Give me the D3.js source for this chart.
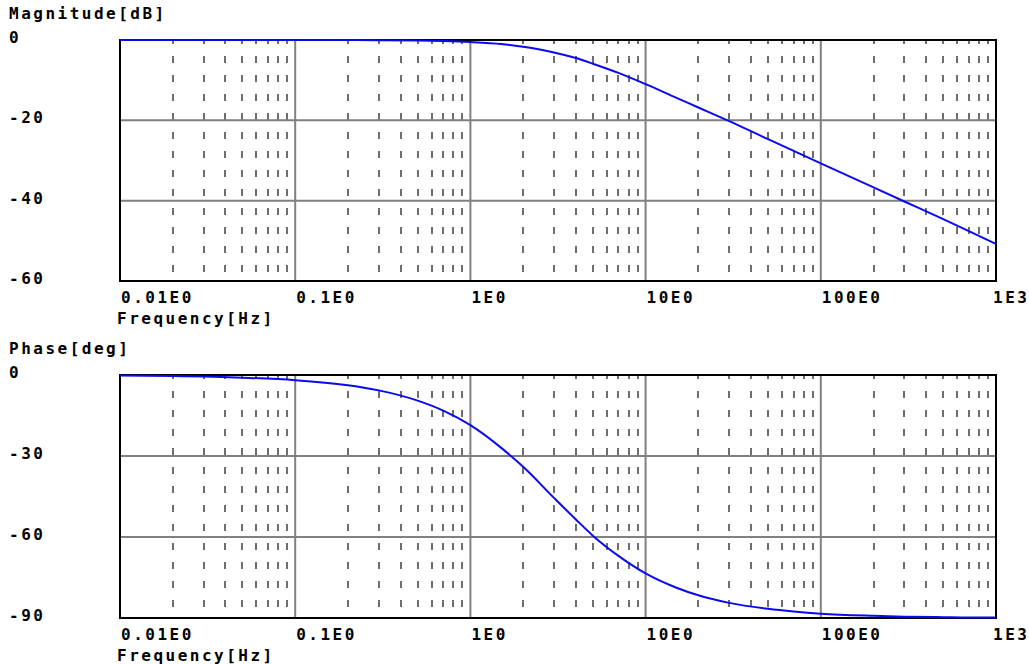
<!DOCTYPE html>
<html>
<head>
<meta charset="utf-8">
<script src="https://cdn.jsdelivr.net/npm/d3@7"></script>
<style>
  body { margin: 0; background: #fff; }
  text { font-family: "DejaVu Sans Mono", monospace; font-weight: bold; font-size: 16px; letter-spacing: 2.5px; fill: #000; }
</style>
</head>
<body>
<svg id="canvas" width="1029" height="664"></svg>
<script>
// frequency points (Hz)
var freqs = [0.01, 0.02, 0.05, 0.1, 0.2, 0.3, 0.5, 0.7, 1, 1.5, 2, 3, 4, 5, 7, 10, 15, 20, 30, 50, 70, 100, 200, 300, 500, 700, 1000];
// magnitude in dB
var magnitude = [0, 0, 0, 0, -0.02, -0.04, -0.12, -0.25, -0.5, -1.0, -1.7, -3.1, -4.5, -5.9, -8.2, -11.0, -14.4, -16.8, -20.2, -24.7, -27.6, -30.7, -36.7, -40.2, -44.6, -47.6, -50.8];
// phase in degrees
var phase = [-0.2, -0.4, -1.0, -1.9, -3.8, -5.7, -9.5, -13.2, -18.6, -27, -34, -45.5, -53.5, -59.5, -67, -73.5, -78.8, -81.6, -84.4, -86.6, -87.6, -88.4, -89.2, -89.5, -89.7, -89.8, -89.8];

var xTicks = [0.01, 0.1, 1, 10, 100, 1000];
var xTickLabels = ['0.01E0', '0.1E0', '1E0', '10E0', '100E0', '1E3'];
var magTicks = [0, -20, -40, -60];
var phaseTicks = [0, -30, -60, -90];

var svg = d3.select('#canvas');
svg.append('rect').attr('width', 1029).attr('height', 664).attr('fill', '#fff');

var left = 120, right = 996;

var drawPanel = function (top, bottom, title, yTicks, values) {
  var x = d3.scaleLog().domain([0.01, 1000]).range([left, right]);
  var y = d3.scaleLinear().domain([yTicks[yTicks.length - 1], 0]).range([bottom, top]);
  var g = svg.append('g');

  // minor dashed verticals (2..9 of each decade)
  var minor = x.ticks().filter(function (d) {
    return Math.abs(Math.log10(d) - Math.round(Math.log10(d))) > 1e-6;
  });
  g.selectAll('line.minor').data(minor).enter().append('line')
    .attr('x1', function (d) { return Math.round(x(d)); })
    .attr('x2', function (d) { return Math.round(x(d)); })
    .attr('y1', top - 3).attr('y2', bottom)
    .attr('stroke', '#6e6e6e').attr('stroke-width', 2)
    .attr('stroke-dasharray', '7,12');

  // major grid
  g.selectAll('line.vmaj').data(xTicks.slice(1, -1)).enter().append('line')
    .attr('x1', function (d) { return x(d); }).attr('x2', function (d) { return x(d); })
    .attr('y1', top).attr('y2', bottom)
    .attr('stroke', '#808080').attr('stroke-width', 2);
  g.selectAll('line.hmaj').data(yTicks.slice(1, -1)).enter().append('line')
    .attr('x1', left).attr('x2', right)
    .attr('y1', function (d) { return y(d); }).attr('y2', function (d) { return y(d); })
    .attr('stroke', '#808080').attr('stroke-width', 2);

  // cover dash overshoot above the frame
  g.append('rect').attr('x', left).attr('y', top - 4).attr('width', right - left).attr('height', 4).attr('fill', '#fff');

  // frame
  g.append('rect').attr('x', left).attr('y', top)
    .attr('width', right - left).attr('height', bottom - top)
    .attr('fill', 'none').attr('stroke', '#000').attr('stroke-width', 2);

  // curve
  var line = d3.line()
    .x(function (d, i) { return x(freqs[i]); })
    .y(function (d) { return y(d); })
    .curve(d3.curveMonotoneX);
  g.append('path').datum(values).attr('d', line)
    .attr('fill', 'none').attr('stroke', '#0a0af0').attr('stroke-width', 2);

  // y tick labels
  g.selectAll('text.yl').data(yTicks).enter().append('text')
    .attr('x', 9).attr('y', function (d) { return y(d) + 3; })
    .text(function (d) { return d; });

  // x tick labels
  g.selectAll('text.xl').data(xTicks).enter().append('text')
    .attr('x', function (d, i) { return i === xTicks.length - 1 ? x(d) - 3 : x(d) + 1; })
    .attr('y', bottom + 22)
    .text(function (d, i) { return xTickLabels[i]; });

  g.append('text').attr('x', left - 3).attr('y', bottom + 43).text('Frequency[Hz]');
  g.append('text').attr('x', 9).attr('y', top - 21).text(title);
};

drawPanel(40, 281, 'Magnitude[dB]', magTicks, magnitude);
drawPanel(375, 618, 'Phase[deg]', phaseTicks, phase);
</script>
</body>
</html>
